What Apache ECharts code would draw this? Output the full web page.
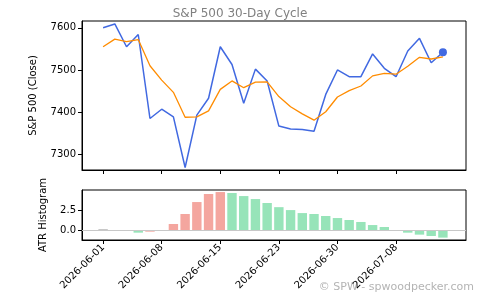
<!DOCTYPE html>
<html>
<head>
<meta charset="utf-8">
<script src="https://cdn.jsdelivr.net/npm/echarts@6/dist/echarts.min.js"></script>
<style>
  html, body { margin: 0; padding: 0; background: #fff; }
  #myChart { width: 480px; height: 300px; }
</style>
</head>
<body>
<div id="myChart"></div>
<script>
// trading days of the cycle
const dates = ['2026-06-01', '2026-06-02', '2026-06-03', '2026-06-04', '2026-06-05',
  '2026-06-08', '2026-06-09', '2026-06-10', '2026-06-11', '2026-06-12',
  '2026-06-15', '2026-06-16', '2026-06-17', '2026-06-18', '2026-06-22',
  '2026-06-23', '2026-06-24', '2026-06-25', '2026-06-26', '2026-06-29',
  '2026-06-30', '2026-07-01', '2026-07-02', '2026-07-06', '2026-07-07',
  '2026-07-08', '2026-07-09', '2026-07-10', '2026-07-13', '2026-07-14']
const closeVals = [7600, 7609, 7555, 7584, 7385, 7407, 7389, 7269, 7393, 7433,
  7555, 7513, 7421, 7502, 7474, 7367, 7360, 7359, 7355, 7442,
  7500, 7484, 7484, 7538, 7504, 7484, 7545, 7575, 7517, 7542]
const smoothVals = [7555, 7573, 7567, 7572, 7510, 7476, 7447, 7388, 7389, 7403,
  7454, 7474, 7458, 7471, 7472, 7437, 7413, 7396, 7381, 7401,
  7436, 7451, 7462, 7486, 7492, 7490, 7509, 7530, 7526, 7531]
const atrVals = [0.13, 0, -0.05, -0.34, -0.21, -0.08, 0.76, 2.03, 3.55, 4.57,
  4.82, 4.70, 4.31, 3.93, 3.43, 2.90, 2.53, 2.15, 2.03, 1.78,
  1.52, 1.27, 1.02, 0.63, 0.38, 0, -0.34, -0.59, -0.76, -0.97]
const priceTicks = [7300, 7400, 7500, 7600]
const atrTicks = [0, 2.5]
const dateTicks = [0, 5, 10, 15, 20, 25]

const FONT = 'DejaVu Sans'
const myChart = echarts.init(document.getElementById('myChart'))

// bar colour: up vs previous = red, down = green, first = grey
const barData = atrVals.map((v, i) => {
  let c = '#c8c8c8'
  if (i > 0) c = v > atrVals[i - 1] ? '#f4a69f' : '#97e4b9'
  return { value: [i, v], itemStyle: { color: c } }
})

const xCommon = {
  type: 'value',
  min: -1.8,
  max: 30.97,
  splitLine: { show: false },
  axisLine: { onZero: false, lineStyle: { color: '#000', width: 1 } },
  axisTick: { customValues: dateTicks, length: 4, lineStyle: { color: '#000' } }
}

myChart.setOption({
  animation: false,
  textStyle: { fontFamily: FONT },
  title: {
    text: 'S&P 500 30-Day Cycle',
    left: 'center',
    top: 3,
    textStyle: { fontFamily: FONT, fontSize: 12, fontWeight: 'normal', color: '#808080' }
  },
  graphic: [{
    type: 'text',
    right: 6,
    top: 282,
    style: { text: '© SPW - spwoodpecker.com', fontFamily: FONT, fontSize: 11, fill: '#b4b4b4' }
  }],
  grid: [
    { left: 82, right: 14, top: 21, height: 149, show: true, borderColor: '#000', borderWidth: 1 },
    { left: 82, right: 14, top: 190, height: 50, show: true, borderColor: '#000', borderWidth: 1 }
  ],
  xAxis: [
    Object.assign({ gridIndex: 0, axisLabel: { show: false } }, xCommon),
    Object.assign({
      gridIndex: 1,
      axisLabel: {
        customValues: dateTicks,
        formatter: v => dates[v],
        rotate: 45,
        margin: 6,
        fontFamily: FONT,
        fontSize: 10,
        color: '#000'
      }
    }, xCommon)
  ],
  yAxis: [
    {
      gridIndex: 0,
      type: 'value',
      min: 7263,
      max: 7616,
      name: 'S&P 500 (Close)',
      nameLocation: 'middle',
      nameGap: 44,
      nameTextStyle: { fontFamily: FONT, fontSize: 10, color: '#000' },
      splitLine: { show: false },
      axisLine: { show: true, onZero: false, lineStyle: { color: '#000' } },
      axisTick: { show: true, customValues: priceTicks, length: 4, lineStyle: { color: '#000' } },
      axisLabel: {
        customValues: priceTicks,
        formatter: v => String(v),
        fontFamily: FONT,
        fontSize: 10,
        color: '#000',
        margin: 6
      }
    },
    {
      gridIndex: 1,
      type: 'value',
      min: -1.27,
      max: 5.08,
      name: 'ATR Histogram',
      nameLocation: 'middle',
      nameGap: 34,
      nameTextStyle: { fontFamily: FONT, fontSize: 10, color: '#000' },
      splitLine: { show: false },
      axisLine: { show: true, onZero: false, lineStyle: { color: '#000' } },
      axisTick: { show: true, customValues: atrTicks, length: 4, lineStyle: { color: '#000' } },
      axisLabel: {
        customValues: atrTicks,
        formatter: v => v.toFixed(1),
        fontFamily: FONT,
        fontSize: 10,
        color: '#000',
        margin: 6
      }
    }
  ],
  series: [
    {
      name: 'Close',
      type: 'line',
      xAxisIndex: 0,
      yAxisIndex: 0,
      showSymbol: false,
      lineStyle: { color: '#4169e1', width: 1.5 },
      data: closeVals.map((v, i) => [i, v]),
      z: 3
    },
    {
      name: 'Smooth',
      type: 'line',
      xAxisIndex: 0,
      yAxisIndex: 0,
      showSymbol: false,
      lineStyle: { color: '#ff8c00', width: 1.3 },
      data: smoothVals.map((v, i) => [i, v]),
      z: 4
    },
    {
      // last close marker
      type: 'scatter',
      xAxisIndex: 0,
      yAxisIndex: 0,
      symbolSize: 8,
      itemStyle: { color: '#4169e1', opacity: 1 },
      data: [[closeVals.length - 1, closeVals[closeVals.length - 1]]],
      z: 5
    },
    {
      name: 'ATR',
      type: 'bar',
      xAxisIndex: 1,
      yAxisIndex: 1,
      barWidth: 9.4,
      data: barData,
      markLine: {
        silent: true,
        symbol: 'none',
        label: { show: false },
        lineStyle: { color: '#c8c8c8', width: 1, type: 'solid' },
        data: [{ yAxis: 0 }]
      }
    }
  ]
})
</script>
</body>
</html>
